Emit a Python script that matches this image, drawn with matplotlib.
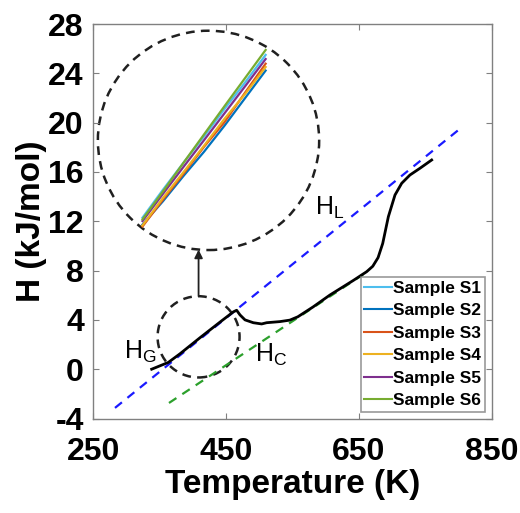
import matplotlib as mpl
mpl.use('Agg')
import matplotlib.pyplot as plt
from matplotlib.patches import Circle

plt.rcParams['font.family'] = ['Liberation Sans', 'DejaVu Sans']
plt.rcParams['mathtext.fontset'] = 'custom'
plt.rcParams['mathtext.rm'] = 'Liberation Sans'
plt.rcParams['axes.unicode_minus'] = False

# measured enthalpy curve (K, kJ/mol)
temp = [337.7, 362.8, 380.4, 410.5, 440.7, 460.8, 465.8, 470.9, 478.4, 490.9,
        503.5, 511.0, 531.0, 546.0, 558.0, 581.0, 606.5, 641.7, 661.8, 671.0,
        679.0, 686.0, 694.5, 704.5, 714.6, 727.0, 742.2, 759.8]
enth = [0.0, 0.55, 1.25, 2.55, 3.82, 4.65, 4.78, 4.40, 4.00, 3.77,
        3.67, 3.77, 3.86, 3.98, 4.25, 5.05, 6.02, 7.20, 7.91, 8.35,
        9.05, 10.20, 12.37, 14.13, 15.08, 15.75, 16.30, 16.97]

# extrapolated liquid / crystal lines
hl_t = [282.4, 804.0]
hl_h = [-3.14, 19.57]
hc_t = [363.8, 662.3]
hc_h = [-2.74, 7.89]

# zoomed view of the six samples
zoom_t = [368, 381, 394, 407, 420, 433, 446]
samples = ['Sample S1', 'Sample S2', 'Sample S3', 'Sample S4', 'Sample S5', 'Sample S6']
s1 = [-0.30, 0.72, 1.70, 2.66, 3.66, 4.62, 5.62]
s2 = [-0.55, 0.30, 1.22, 2.10, 3.05, 4.05, 5.05]
s3 = [-0.62, 0.36, 1.30, 2.28, 3.18, 4.25, 5.30]
s4 = [-0.58, 0.42, 1.36, 2.32, 3.30, 4.20, 5.18]
s5 = [-0.42, 0.57, 1.55, 2.52, 3.50, 4.48, 5.47]
s6 = [-0.36, 0.66, 1.70, 2.73, 3.76, 4.78, 5.80]
colors = ['#4DBEEE', '#0072BD', '#D95319', '#EDB120', '#7E2F8E', '#77AC30']

fig = plt.figure(figsize=(5.2, 5.13), dpi=100)
ax = fig.add_axes([0.1798, 0.1842, 0.7654, 0.769])

# dummy lines for legend
for lab, c in zip(samples, colors):
    ax.plot([], [], color=c, lw=1.5, label=lab)

ax.plot(hl_t, hl_h, '--', color='#1a1aff', lw=1.6, dashes=(4, 3.2))
ax.plot(hc_t, hc_h, '--', color='#2ca02c', lw=1.6, dashes=(4, 3.2))
ax.plot(temp, enth, color='black', lw=2)

ax.set_xlim(250, 850)
ax.set_ylim(-4, 28)
ax.set_xticks([250, 450, 650, 850])
ax.set_yticks(range(-4, 29, 4))
for s in ax.spines.values():
    s.set_color('#808080')
    s.set_linewidth(1)
ax.tick_params(direction='in', length=4, width=0.8, color='#808080',
               top=True, right=True, labelsize=23)
ax.tick_params(axis='x', pad=13)
ax.tick_params(axis='y', pad=7)
for t in ax.get_xticklabels() + ax.get_yticklabels():
    t.set_fontweight('bold')
ax.set_xlabel('Temperature (K)', fontsize=24, fontweight='bold', labelpad=2)
ax.set_ylabel('H (kJ/mol)', fontsize=24, fontweight='bold', labelpad=1)

# circles and arrow (axes fraction)
ax.add_patch(Circle((0.264, 0.207), 0.103, transform=ax.transAxes, fill=False,
                    ls=(0, (3.5, 2.5)), lw=1.8, color='#202020'))
ax.add_patch(Circle((0.289, 0.705), 0.278, transform=ax.transAxes, fill=False,
                    ls=(0, (3.5, 2.5)), lw=1.8, color='#202020'))
ax.annotate('', xy=(0.264, 0.428), xytext=(0.264, 0.31), xycoords='axes fraction',
            arrowprops=dict(arrowstyle='-|>', color='#202020', lw=1.3,
                            mutation_scale=12, shrinkA=0, shrinkB=0))

ax.text(584, 13.1, r'H$_\mathregular{L}$', fontsize=18, va='center', ha='left')
ax.text(296, 1.4, r'H$_\mathregular{G}$', fontsize=18, va='center', ha='left')
ax.text(493, 1.15, r'H$_\mathregular{C}$', fontsize=18, va='center', ha='left')

leg = ax.legend(loc='lower right', prop={'weight': 'bold', 'size': 12.5},
                frameon=True, fancybox=False, borderpad=0.2, labelspacing=0.42,
                handlelength=1.6, handletextpad=0.05, borderaxespad=0.4)
leg.get_frame().set_edgecolor('#808080')
leg.get_frame().set_linewidth(1.2)

# inset with zoomed sample curves
ins = fig.add_axes([98.3 / 520, (513 - 250.7) / 513, 221 / 520, 220 / 513])
ins.set_xlim(340, 480)
ins.set_ylim(-1.5, 6.5)
ins.axis('off')
ins.patch.set_alpha(0)
for vals, c in zip([s1, s2, s3, s4, s5, s6], colors):
    ins.plot(zoom_t, vals, color=c, lw=1.6)

fig.savefig('out.png', dpi=100)
print("Done!")
